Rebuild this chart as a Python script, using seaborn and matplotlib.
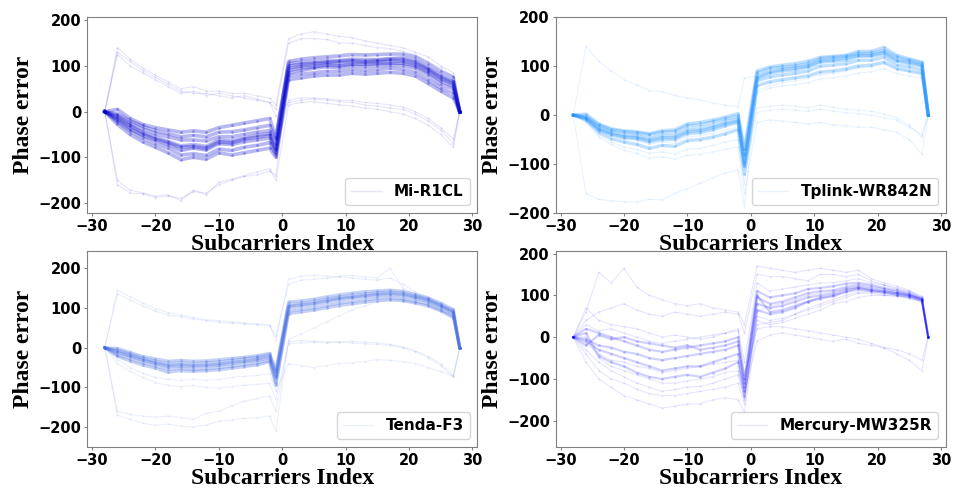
import pandas as pd
import matplotlib.pyplot as plt
import seaborn as sns

plt.rcParams['font.weight'] = 'bold'
plt.rcParams['font.size'] = 10.5

# subcarrier indices (30 grouped subcarriers)
subcarriers = [-28, -26, -24, -22, -20, -18, -16, -14, -12, -10, -8, -6, -4, -2, -1,
               1, 3, 5, 7, 9, 11, 13, 15, 17, 19, 21, 23, 25, 27, 28]

# Mi-R1CL
mi_core = [
    [0, -12, -30, -45, -55, -65, -75, -72, -76, -62, -64, -58, -52, -48, -80, 95, 100, 103, 106, 105, 108, 107, 108, 110, 110, 104, 90, 72, 60, 0],
    [0, -18, -38, -52, -62, -72, -85, -80, -84, -70, -72, -66, -62, -58, -90, 85, 90, 95, 98, 96, 100, 98, 100, 102, 100, 95, 80, 60, 50, 0],
    [0, -8, -25, -38, -48, -55, -62, -62, -64, -55, -55, -50, -45, -42, -70, 105, 108, 110, 112, 112, 115, 114, 114, 116, 118, 112, 96, 80, 66, 0],
    [0, -22, -42, -58, -70, -80, -95, -92, -96, -82, -85, -78, -74, -68, -95, 78, 82, 85, 88, 88, 92, 90, 92, 95, 92, 86, 70, 52, 40, 0],
    [0, -5, -20, -32, -42, -48, -55, -52, -55, -45, -44, -40, -35, -30, -60, 110, 115, 118, 120, 122, 125, 124, 125, 126, 126, 120, 105, 88, 75, 0],
    [0, -28, -50, -66, -78, -90, -105, -100, -104, -90, -95, -90, -85, -80, -100, 70, 74, 78, 80, 80, 84, 82, 84, 86, 84, 78, 62, 45, 30, 0],
    [0, -15, -32, -48, -60, -68, -78, -76, -80, -66, -68, -60, -56, -52, -85, 90, 96, 98, 102, 100, 104, 104, 105, 106, 106, 100, 86, 68, 56, 0],
    [0, 5, -15, -28, -35, -40, -45, -42, -45, -35, -30, -25, -20, -15, -55, 100, 104, 106, 108, 110, 112, 110, 112, 115, 114, 108, 94, 76, 64, 0],
]
mi_outer = [
    [0, 140, 115, 95, 80, 65, 50, 55, 45, 45, 40, 40, 35, 30, 15, 160, 170, 175, 170, 165, 162, 155, 150, 145, 140, 130, 120, 100, 85, 0],
    [0, 130, 110, 90, 75, 60, 45, 40, 40, 35, 30, 35, 28, 20, 5, 150, 160, 160, 158, 150, 150, 145, 140, 138, 132, 125, 110, 95, 78, 0],
    [0, 125, 100, 85, 70, 55, 40, 45, 35, 40, 35, 30, 25, 20, -10, 20, 25, 28, 25, 22, 20, 15, 12, 8, 5, -5, -20, -40, -70, 0],
    [0, -150, -172, -178, -185, -182, -195, -172, -182, -155, -148, -140, -132, -125, -150, 15, 20, 22, 18, 15, 12, 8, 5, 0, -5, -15, -30, -50, -78, 0],
    [0, -160, -178, -180, -188, -185, -190, -175, -178, -160, -150, -142, -138, -130, -140, 80, 90, 95, 100, 100, 102, 100, 105, 105, 104, 100, 85, 65, 50, 0],
    [0, -20, -40, -55, -65, -75, -85, -80, -85, -70, -72, -65, -60, -50, -90, 25, 30, 30, 28, 25, 25, 20, 18, 15, 10, 0, -15, -35, -60, 0],
]

# Tplink-WR842N
tp_core = [
    [0, -5, -25, -35, -40, -42, -48, -42, -42, -30, -28, -22, -15, -8, -95, 75, 85, 90, 92, 98, 108, 110, 112, 120, 120, 125, 110, 105, 100, 0],
    [0, -2, -20, -30, -34, -36, -40, -35, -34, -22, -20, -14, -8, -2, -80, 85, 95, 98, 100, 105, 115, 118, 120, 126, 126, 132, 118, 112, 106, 0],
    [0, -8, -30, -40, -46, -48, -55, -50, -50, -38, -36, -30, -22, -15, -105, 70, 78, 82, 85, 90, 100, 102, 105, 112, 112, 118, 102, 98, 92, 0],
    [0, -10, -35, -48, -55, -60, -68, -62, -64, -52, -50, -45, -38, -30, -120, 60, 68, 72, 76, 80, 88, 90, 94, 100, 102, 108, 95, 90, 85, 0],
    [0, 2, -18, -28, -32, -34, -38, -32, -30, -18, -15, -10, -4, 3, -70, 90, 98, 102, 105, 110, 118, 120, 122, 130, 130, 138, 122, 115, 108, 0],
    [0, -6, -28, -38, -44, -46, -52, -46, -46, -34, -32, -26, -18, -12, -100, 78, 88, 93, 96, 100, 110, 113, 116, 122, 122, 128, 112, 108, 102, 0],
]
tp_outer = [
    [0, -12, -40, -55, -65, -70, -78, -75, -80, -70, -68, -62, -55, -50, -140, 45, 55, 60, 62, 66, 74, 76, 80, 86, 88, 95, 85, 80, 75, 0],
    [0, -8, -30, -42, -50, -52, -60, -55, -58, -45, -42, -38, -30, -25, -110, 5, 10, 12, 10, 8, 12, 8, 5, 3, 0, -5, -10, -25, -40, 0],
    [0, -15, -45, -60, -72, -78, -88, -85, -90, -82, -80, -75, -70, -65, -160, -15, -10, -12, -15, -18, -15, -20, -22, -25, -25, -30, -35, -50, -80, 0],
    [0, -4, -22, -32, -38, -40, -45, -38, -38, -26, -24, -18, -10, -5, -90, 15, 18, 20, 18, 15, 20, 16, 12, 10, 8, 2, -5, -20, -45, 0],
    [0, 140, 110, 90, 72, 62, 50, 48, 40, 35, 31, 25, 20, 17, 75, 80, 90, 95, 100, 105, 112, 115, 118, 125, 125, 130, 118, 110, 100, 0],
    [0, -160, -172, -175, -177, -178, -172, -173, -160, -150, -139, -128, -118, -112, -185, 50, 60, 66, 70, 75, 82, 85, 90, 96, 98, 105, 95, 90, 85, 0],
]

# Tenda-F3
td_core = [
    [0, -12, -22, -32, -40, -48, -46, -48, -46, -44, -40, -36, -32, -26, -75, 100, 104, 108, 114, 120, 124, 128, 131, 133, 130, 124, 116, 102, 86, 0],
    [0, -6, -16, -26, -34, -40, -38, -40, -38, -36, -32, -28, -24, -18, -62, 108, 112, 116, 122, 127, 131, 135, 138, 140, 137, 130, 122, 108, 92, 0],
    [0, -18, -28, -38, -46, -55, -52, -55, -53, -50, -47, -43, -38, -32, -88, 92, 96, 100, 106, 112, 116, 120, 124, 126, 123, 117, 110, 96, 80, 0],
    [0, -2, -12, -22, -28, -34, -32, -34, -33, -30, -27, -24, -20, -14, -55, 115, 118, 122, 128, 133, 137, 141, 143, 145, 142, 134, 126, 112, 96, 0],
    [0, -22, -34, -44, -52, -62, -58, -60, -58, -56, -52, -48, -44, -36, -95, 85, 90, 94, 100, 106, 110, 114, 118, 120, 118, 112, 105, 92, 75, 0],
    [0, -10, -20, -30, -38, -45, -43, -45, -44, -41, -37, -34, -29, -22, -70, 104, 108, 112, 118, 124, 127, 131, 134, 136, 134, 127, 119, 105, 89, 0],
]
td_outer = [
    [0, 145, 128, 112, 98, 88, 82, 76, 70, 68, 65, 62, 60, 58, 20, 172, 180, 182, 180, 178, 176, 172, 170, 175, 160, 140, 125, 108, 90, 0],
    [0, 135, 120, 105, 92, 82, 78, 72, 68, 64, 62, 60, 58, 55, 30, 160, 170, 172, 175, 180, 182, 178, 176, 200, 150, 135, 120, 104, 88, 0],
    [0, -40, -60, -75, -88, -95, -98, -95, -100, -102, -98, -95, -92, -90, -130, 10, 12, 14, 12, 14, 12, 10, 8, 6, 0, -10, -25, -45, -75, 0],
    [0, -160, -168, -172, -175, -172, -176, -180, -165, -160, -147, -135, -128, -121, -160, 15, 18, 16, 15, 14, 16, 14, 12, 8, 2, -8, -22, -40, -70, 0],
    [0, -170, -180, -190, -195, -192, -198, -199, -195, -185, -182, -178, -176, -172, -210, 20, 35, 50, 65, 80, 95, 105, 115, 120, 118, 112, 105, 92, 80, 0],
    [0, -30, -50, -65, -75, -80, -82, -80, -82, -80, -75, -72, -70, -65, -110, -40, -45, -50, -45, -40, -38, -35, -30, -32, -35, -40, -50, -60, -72, 0],
]

# Mercury-MW325R
mc_core = [
    [0, -10, -30, -40, -50, -60, -70, -80, -75, -70, -70, -60, -50, -40, -130, 80, 70, 75, 85, 95, 100, 105, 115, 120, 115, 110, 105, 100, 90, 0],
    [0, 20, 10, 0, -10, -20, -30, -35, -30, -25, -20, -15, -10, 0, -100, 110, 95, 100, 105, 115, 118, 122, 128, 130, 125, 118, 112, 105, 92, 0],
    [0, -5, -20, -25, -35, -40, -50, -55, -50, -45, -40, -35, -30, -20, -110, 95, 80, 85, 95, 105, 110, 112, 120, 125, 120, 115, 108, 102, 92, 0],
    [0, 10, -45, -60, -70, -85, -95, -100, -95, -90, -95, -85, -75, -60, -140, 65, 55, 60, 70, 85, 92, 98, 108, 114, 110, 106, 102, 96, 88, 0],
    [0, -20, 5, -5, 0, -10, -15, -20, -25, -20, -30, -25, -20, -10, -120, 100, 60, 65, 75, 85, 95, 100, 110, 118, 112, 110, 105, 100, 90, 0],
]
mc_outer = [
    [0, 70, 40, 30, 25, 20, 10, 0, 5, 0, -5, 0, 10, 20, -60, 130, 110, 115, 120, 125, 130, 130, 135, 140, 130, 125, 118, 110, 95, 0],
    [0, -30, -60, -80, -95, -110, -120, -130, -125, -120, -118, -110, -100, -90, -150, 50, 40, 45, 55, 70, 80, 90, 100, 108, 108, 105, 100, 98, 88, 0],
    [0, -60, -100, -120, -140, -150, -160, -170, -165, -160, -160, -150, -145, -150, -180, 30, 35, 40, 55, 65, 75, 85, 95, 105, 105, 100, 98, 95, 85, 0],
    [0, 40, 60, 70, 80, 65, 55, 50, 60, 55, 50, 55, 60, 55, 10, 150, 145, 145, 140, 135, 150, 150, 145, 150, 135, 125, 115, 108, 95, 0],
    [0, -15, -40, -55, -60, -70, -75, -85, -80, -75, -70, -65, -60, -55, -135, -10, 5, 10, 5, 0, -5, -10, -5, -15, -20, -25, -30, -40, -55, 0],
    [0, 30, 15, 20, 10, 0, -10, -15, -10, -5, 0, 5, 10, 15, -90, 20, 25, 25, 20, 15, 10, 5, 0, -5, -15, -25, -40, -55, -80, 0],
    [0, -40, -80, -100, -110, -125, -135, -140, -140, -135, -130, -125, -120, -110, -160, 60, 75, 80, 90, 100, 105, 110, 115, 118, 112, 108, 100, 95, 85, 0],
    [0, 60, 155, 130, 165, 120, 100, 90, 80, 75, 80, 70, 65, 60, 30, 170, 165, 160, 155, 160, 165, 160, 155, 160, 140, 130, 122, 112, 98, 0],
    [0, 0, -50, -70, -80, -90, -100, -110, -110, -105, -100, -95, -85, -80, -145, 40, 30, 35, 45, 55, 65, 80, 85, 95, 100, 100, 98, 92, 85, 0],
]

routers = ['Mi-R1CL', 'Tplink-WR842N', 'Tenda-F3', 'Mercury-MW325R']
colors = ['#0000CD', '#1E90FF', '#4169E1', '#0000FF']
cores = [mi_core, tp_core, td_core, mc_core]
outers = [mi_outer, tp_outer, td_outer, mc_outer]
ylims = [(-222, 207), (-200, 200), (-250, 243), (-263, 206)]
core_alpha = [0.28, 0.28, 0.3, 0.18]
core_lw = [2.6, 2.4, 2.2, 1.6]


def to_frame(traces):
    rows = []
    for k, tr in enumerate(traces):
        for sc, ph in zip(subcarriers, tr):
            rows.append((k, sc, ph))
    return pd.DataFrame(rows, columns=['trace', 'subcarrier', 'phase'])


fig, axes = plt.subplots(2, 2, figsize=(9.56, 4.88), dpi=100)
plt.subplots_adjust(left=0.091, right=0.9895, top=0.965, bottom=0.084,
                    wspace=0.2, hspace=0.194)

for i, ax in enumerate(axes.flat):
    c = colors[i]
    sns.lineplot(data=to_frame(outers[i]), x='subcarrier', y='phase', units='trace',
                 estimator=None, color=c, alpha=0.1, lw=0.8, marker='.',
                 markersize=3, markeredgewidth=0, ax=ax, legend=False)
    sns.lineplot(data=to_frame(cores[i]), x='subcarrier', y='phase', units='trace',
                 estimator=None, color=c, alpha=core_alpha[i], lw=core_lw[i],
                 marker='.', markersize=4, markeredgewidth=0, ax=ax, legend=False)
    handle = plt.Line2D([], [], color=c, alpha=0.1, lw=1)
    ax.legend([handle], [routers[i]], loc='lower right',
              prop={'weight': 'bold', 'size': 11})
    ax.set_xlim(-30.8, 30.8)
    ax.set_ylim(*ylims[i])
    ax.set_xticks([-30, -20, -10, 0, 10, 20, 30])
    ax.set_yticks([-200, -100, 0, 100, 200])
    ax.tick_params(length=2.5, pad=1.5, color='gray')
    ax.set_xlabel('Subcarriers Index', family='Liberation Serif', fontsize=17,
                  fontweight='bold', labelpad=0)
    ax.set_ylabel('Phase error', family='Liberation Serif', fontsize=17,
                  fontweight='bold', labelpad=3)
    for s in ax.spines.values():
        s.set_color('gray')

plt.savefig('out.png')
